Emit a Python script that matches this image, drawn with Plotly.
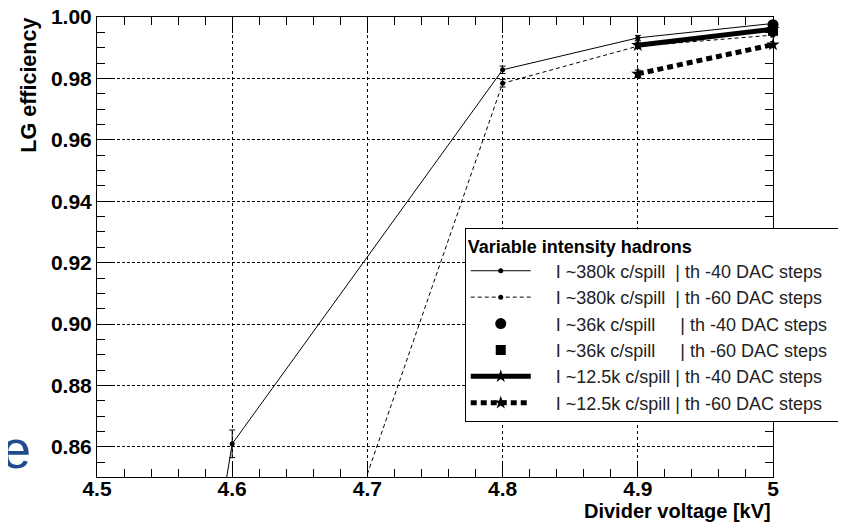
import plotly.graph_objects as go

# ---- data ----
v_380k_40 = [4.5, 4.6, 4.8, 4.9, 5.0]
eff_380k_40 = [0.594, 0.861, 0.9828, 0.9932, 0.9979]
err_380k_40 = [0.004, 0.0045, 0.0012, 0.0008, 0.0006]

v_380k_60 = [4.6, 4.8, 4.9, 5.0]
eff_380k_60 = [0.724, 0.9784, 0.9905, 0.9941]
err_380k_60 = [0.004, 0.0012, 0.0008, 0.0006]

v_36k_40 = [5.0]
eff_36k_40 = [0.9975]
err_36k_40 = [0.0008]

v_36k_60 = [5.0]
eff_36k_60 = [0.9955]
err_36k_60 = [0.0008]

v_12k_40 = [4.9, 5.0]
eff_12k_40 = [0.9908, 0.9960]
err_12k_40 = [0.0010, 0.0008]

v_12k_60 = [4.9, 5.0]
eff_12k_60 = [0.9815, 0.9910]
err_12k_60 = [0.0012, 0.0010]

NB = "\u00a0"
names = [
    NB * 4 + "I ~380k c/spill" + NB * 2 + "| th -40 DAC steps" + NB * 2,
    NB * 4 + "I ~380k c/spill" + NB * 2 + "| th -60 DAC steps" + NB * 2,
    NB * 4 + "I ~36k c/spill" + NB * 5 + "| th -40 DAC steps" + NB * 2,
    NB * 4 + "I ~36k c/spill" + NB * 5 + "| th -60 DAC steps" + NB * 2,
    NB * 4 + "I ~12.5k c/spill | th -40 DAC steps" + NB * 2,
    NB * 4 + "I ~12.5k c/spill | th -60 DAC steps" + NB * 2,
]
legend_title = "Variable intensity hadrons"

x_ticks = [4.5, 4.6, 4.7, 4.8, 4.9, 5.0]
x_labels = ["4.5", "4.6", "4.7", "4.8", "4.9", "5"]
y_ticks = [0.86, 0.88, 0.90, 0.92, 0.94, 0.96, 0.98, 1.00]
y_labels = ["0.86", "0.88", "0.90", "0.92", "0.94", "0.96", "0.98", "1.00"]

fig = go.Figure()

def err(a):
    return dict(type="data", array=a, visible=True, color="black", thickness=1, width=3)

fig.add_trace(go.Scatter(x=v_380k_40, y=eff_380k_40, error_y=err(err_380k_40), name=names[0],
                         mode="lines+markers", line=dict(color="black", width=1),
                         marker=dict(symbol="circle", size=5, color="black"),
                         legendgroup="a", cliponaxis=False))
fig.add_trace(go.Scatter(x=v_380k_60, y=eff_380k_60, error_y=err(err_380k_60), name=names[1],
                         mode="lines+markers", line=dict(color="black", width=1, dash="4px,3px"),
                         marker=dict(symbol="circle", size=5, color="black"),
                         legendgroup="b", cliponaxis=False))
fig.add_trace(go.Scatter(x=v_36k_40, y=eff_36k_40, error_y=err(err_36k_40), name=names[2],
                         mode="markers", marker=dict(symbol="circle", size=11, color="black"),
                         legendgroup="c", cliponaxis=False))
fig.add_trace(go.Scatter(x=v_36k_60, y=eff_36k_60, error_y=err(err_36k_60), name=names[3],
                         mode="markers", marker=dict(symbol="square", size=10, color="black"),
                         legendgroup="d", cliponaxis=False))
fig.add_trace(go.Scatter(x=v_12k_40, y=eff_12k_40, error_y=err(err_12k_40), name=names[4],
                         mode="lines+markers", line=dict(color="black", width=5),
                         marker=dict(symbol="star", size=10, color="black"),
                         legendgroup="e", cliponaxis=False))
fig.add_trace(go.Scatter(x=v_12k_60, y=eff_12k_60, error_y=err(err_12k_60), name=names[5],
                         mode="lines+markers", line=dict(color="black", width=5, dash="6px,4px"),
                         marker=dict(symbol="star", size=10, color="black"),
                         legendgroup="f", cliponaxis=False))

axis_common = dict(
    showline=True, linecolor="black", linewidth=1, mirror="ticks",
    ticks="inside", ticklen=16, tickwidth=1, tickcolor="black",
    showgrid=True, gridcolor="black", gridwidth=1,
    zeroline=False, automargin=False, ticklabeloverflow="allow",
    tickfont=dict(family="Liberation Sans", size=21, color="black", weight="bold"),
)

fig.update_xaxes(range=[4.5, 5.0], tickvals=x_ticks, ticktext=x_labels, griddash="dot",
                 ticklabelstandoff=-7,
                 minor=dict(ticks="inside", ticklen=8, tickcolor="black", dtick=0.02, tick0=4.5,
                            showgrid=False),
                 **axis_common)
fig.update_yaxes(range=[0.8502, 1.0], tickvals=y_ticks, ticktext=y_labels, griddash="3px,2px",
                 minor=dict(ticks="inside", ticklen=8, tickcolor="black", dtick=0.005, tick0=0.85,
                            showgrid=False),
                 **axis_common)

fig.add_annotation(text="Divider voltage [kV]", xref="paper", yref="paper", x=1.0, y=-0.074,
                   xanchor="right", yanchor="middle", showarrow=False,
                   font=dict(family="Liberation Sans", size=20, color="black", weight="bold"))
fig.add_annotation(text="LG efficiency", xref="paper", yref="paper", x=-0.1006, y=1.004,
                   xanchor="center", yanchor="top", textangle=-90, showarrow=False,
                   font=dict(family="Liberation Sans", size=21.5, color="black", weight="bold"))
fig.add_annotation(text="e", xref="paper", yref="paper", x=-0.094, y=0.06,
                   xanchor="right", yanchor="middle", showarrow=False,
                   font=dict(family="Liberation Sans", size=54, color="#1f4c8c"))

# page body has an 8px margin, so the figure is sized to end at the window edge
fig.update_layout(
    width=838, height=518,
    margin=dict(l=89, r=73, t=9, b=49, autoexpand=False),
    paper_bgcolor="white", plot_bgcolor="white",
    showlegend=True,
    legend=dict(
        x=0.544, y=0.541, xanchor="left", yanchor="top",
        bgcolor="white", bordercolor="black", borderwidth=1,
        font=dict(family="Liberation Sans", size=18, color="#222222"),
        title=dict(text=legend_title,
                   font=dict(family="Liberation Sans", size=18, color="black", weight="bold")),
        tracegroupgap=0, itemwidth=60,
    ),
)

fig.write_html("out.html")
